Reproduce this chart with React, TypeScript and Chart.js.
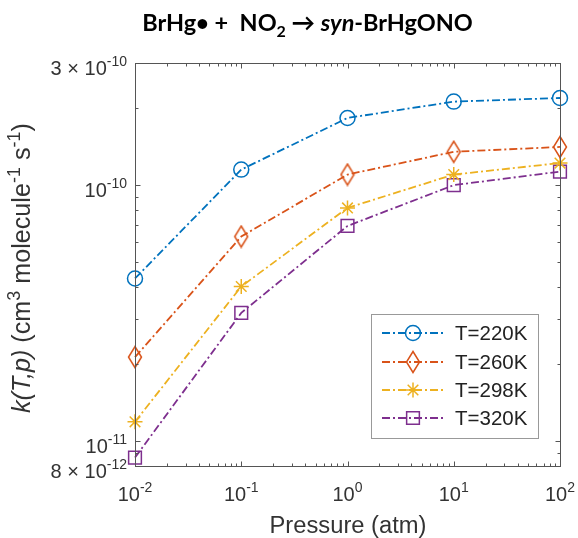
import React, { useEffect, useRef } from "react";
import { Chart, registerables } from "chart.js";
import { drawPoint } from "chart.js/helpers";

Chart.register(...registerables);

// ---- data ----
const pressures = [0.01, 0.1, 1, 10, 100];
const k220 = [4.32e-11, 1.15e-10, 1.83e-10, 2.12e-10, 2.19e-10];
const k260 = [2.13e-11, 6.3e-11, 1.1e-10, 1.35e-10, 1.41e-10];
const k298 = [1.19e-11, 4.02e-11, 8.15e-11, 1.1e-10, 1.22e-10];
const k320 = [8.63e-12, 3.17e-11, 6.93e-11, 1.0e-10, 1.13e-10];
const seriesLabels = ["T=220K", "T=260K", "T=298K", "T=320K"];
const seriesColors = ["#0072BD", "#D95319", "#EDB120", "#7E2F8E"];

const xTickValues = [1e-2, 1e-1, 1e0, 1e1, 1e2];
const xTickExponents = ["-2", "-1", "0", "1", "2"];
const yTickValues = [8e-12, 1e-11, 1e-10, 3e-10];
const yTickMantissas = ["8 × ", "", "", "3 × "];
const yTickExponents = ["-12", "-11", "-10", "-10"];

const xTitle = "Pressure (atm)";
const legendLabels = seriesLabels;

const SANS = '"Liberation Sans", Arial, sans-serif';
const TITLE_FONT = 'Lato, "Open Sans", sans-serif';

type Seg = { t: string; font: string; dy?: number };

function segsWidth(ctx: CanvasRenderingContext2D, segs: Seg[]) {
  let w = 0;
  for (const s of segs) {
    ctx.font = s.font;
    w += ctx.measureText(s.t).width;
  }
  return w;
}
function drawSegs(ctx: CanvasRenderingContext2D, segs: Seg[], x: number, y: number) {
  let cx = x;
  for (const s of segs) {
    ctx.font = s.font;
    ctx.fillText(s.t, cx, y + (s.dy || 0));
    cx += ctx.measureText(s.t).width;
  }
}

function makeDiamond(color: string) {
  const c = document.createElement("canvas");
  c.width = 16;
  c.height = 24;
  const g = c.getContext("2d")!;
  g.strokeStyle = color;
  g.lineWidth = 1.5;
  g.beginPath();
  g.moveTo(8, 1.5);
  g.lineTo(14.5, 12);
  g.lineTo(8, 22.5);
  g.lineTo(1.5, 12);
  g.closePath();
  g.stroke();
  return c;
}

function titleSegs(tb: number): Seg[] {
  return [
    { t: "BrHg", font: `bold ${tb}px ${TITLE_FONT}` },
    { t: "•", font: `bold ${Math.round(tb * 0.95)}px ${TITLE_FONT}` },
    { t: " +  NO", font: `bold ${tb}px ${TITLE_FONT}` },
    { t: "2", font: `bold ${Math.round(tb * 0.68)}px ${TITLE_FONT}`, dy: Math.round(tb * 0.25) },
    { t: " → ", font: `bold ${tb}px ${TITLE_FONT}` },
    { t: "syn", font: `italic bold ${tb}px ${TITLE_FONT}` },
    { t: "-BrHgONO", font: `bold ${tb}px ${TITLE_FONT}` },
  ];
}

function yTitleSegs(yb: number): Seg[] {
  const s = Math.round(yb * 0.7);
  const d = -Math.round(yb * 0.4);
  return [
    { t: "k(T,p)", font: `italic ${yb}px ${SANS}` },
    { t: " (cm", font: `${yb}px ${SANS}` },
    { t: "3", font: `${s}px ${SANS}`, dy: d },
    { t: " molecule", font: `${yb}px ${SANS}` },
    { t: "-1", font: `${s}px ${SANS}`, dy: d },
    { t: " s", font: `${yb}px ${SANS}` },
    { t: "-1", font: `${s}px ${SANS}`, dy: d },
    { t: ")", font: `${yb}px ${SANS}` },
  ];
}

const decorPlugin = {
  id: "decor",
  afterDraw(chart: any) {
    const ctx: CanvasRenderingContext2D = chart.ctx;
    const { left, right, top, bottom } = chart.chartArea;
    const xs = chart.scales.x;
    const ys = chart.scales.y;
    ctx.save();
    ctx.setLineDash([]);
    // box
    ctx.strokeStyle = "#555";
    ctx.lineWidth = 1;
    const L = Math.round(left) + 0.5, R = Math.round(right) + 0.5;
    const T = Math.round(top) + 0.5, B = Math.round(bottom) + 0.5;
    ctx.strokeRect(L, T, R - L, B - T);
    const seg = (x1: number, y1: number, x2: number, y2: number) => {
      ctx.beginPath();
      ctx.moveTo(x1, y1);
      ctx.lineTo(x2, y2);
      ctx.stroke();
    };
    // x ticks
    for (let e = -2; e <= 2; e++) {
      for (let m = 1; m <= 9; m++) {
        const v = m * Math.pow(10, e);
        if (v > 100.0001) continue;
        const px = Math.round(xs.getPixelForValue(v)) + 0.5;
        const len = m === 1 ? 5 : 3;
        seg(px, B, px, B - len);
        seg(px, T, px, T + len);
      }
    }
    // y ticks
    for (let e = -12; e <= -10; e++) {
      for (let m = 1; m <= 9; m++) {
        const v = m * Math.pow(10, e);
        if (v < 8e-12 * 0.999 || v > 3e-10 * 1.001) continue;
        const py = Math.round(ys.getPixelForValue(v)) + 0.5;
        const len = m === 1 ? 5 : 3;
        seg(L, py, L + len, py);
        seg(R, py, R - len, py);
      }
    }
    // tick labels
    ctx.fillStyle = "#333";
    ctx.textBaseline = "alphabetic";
    ctx.textAlign = "left";
    const base = `20px ${SANS}`;
    const sup = `14px ${SANS}`;
    yTickValues.forEach((v, i) => {
      const py = ys.getPixelForValue(v);
      const segs: Seg[] = [
        { t: yTickMantissas[i] + "10", font: base },
        { t: yTickExponents[i], font: sup, dy: -9 },
      ];
      const w = segsWidth(ctx, segs);
      drawSegs(ctx, segs, left - 8 - w, py + 12);
    });
    xTickValues.forEach((v, i) => {
      const px = xs.getPixelForValue(v);
      const segs: Seg[] = [
        { t: "10", font: base },
        { t: xTickExponents[i], font: sup, dy: -9 },
      ];
      const w = segsWidth(ctx, segs);
      drawSegs(ctx, segs, px - w / 2, 501);
    });
    // x title, fitted to ~157px wide
    ctx.font = `22px ${SANS}`;
    const xw0 = ctx.measureText(xTitle).width;
    const xb = Math.max(16, Math.min(26, (22 * 157) / xw0));
    ctx.font = `${xb}px ${SANS}`;
    ctx.textAlign = "center";
    ctx.fillText(xTitle, 348, 533);
    ctx.textAlign = "left";
    // y title (rotated), fitted to span y 125..413
    const w0 = segsWidth(ctx, yTitleSegs(22));
    const yb = Math.max(16, Math.min(26, (22 * 288) / w0));
    const ySegs = yTitleSegs(yb);
    ctx.save();
    ctx.translate(30, 413);
    ctx.rotate(-Math.PI / 2);
    drawSegs(ctx, ySegs, 0, 0);
    ctx.restore();
    // title, fitted to span x 142..473
    ctx.fillStyle = "#000";
    const t0 = segsWidth(ctx, titleSegs(22));
    const tb = Math.max(16, Math.min(28, (22 * 331) / t0));
    const tSegs = titleSegs(tb);
    const tw = segsWidth(ctx, tSegs);
    drawSegs(ctx, tSegs, 307.5 - tw / 2, 31);
    // legend
    const lx = 371, ly = 314, lw = 167, lh = 124;
    ctx.fillStyle = "#fff";
    ctx.fillRect(lx, ly, lw, lh);
    ctx.strokeStyle = "#999";
    ctx.lineWidth = 1;
    ctx.strokeRect(lx + 0.5, ly + 0.5, lw, lh);
    const rowY = [333, 362, 390, 418];
    chart.data.datasets.forEach((ds: any, i: number) => {
      const y = rowY[i];
      ctx.strokeStyle = ds.borderColor;
      ctx.lineWidth = ds.borderWidth;
      ctx.setLineDash(ds.borderDash);
      seg(382, y, 445, y);
      ctx.setLineDash([]);
      ctx.fillStyle = "rgba(0,0,0,0)";
      ctx.lineWidth = ds.pointBorderWidth;
      drawPoint(ctx, {
        pointStyle: ds.pointStyle,
        rotation: 0,
        radius: ds.pointRadius,
        borderWidth: ds.pointBorderWidth,
      } as any, 413, y);
      ctx.fillStyle = "#222";
      ctx.font = `20.5px ${SANS}`;
      ctx.textBaseline = "middle";
      ctx.fillText(legendLabels[i], 455, y + 1);
      ctx.textBaseline = "alphabetic";
    });
    ctx.restore();
  },
};

export default function App() {
  const ref = useRef<HTMLCanvasElement | null>(null);
  useEffect(() => {
    if (!ref.current) return;
    const series = [k220, k260, k298, k320];
    const styles: any[] = ["circle", makeDiamond(seriesColors[1]), "star", "rect"];
    const radii = [7.5, 8, 7.5, 9];
    const datasets = series.map((vals, i) => ({
      label: seriesLabels[i],
      data: pressures.map((p, j) => ({ x: p, y: vals[j] })),
      borderColor: seriesColors[i],
      borderWidth: 1.8,
      borderDash: [8, 3, 2, 3],
      pointStyle: styles[i],
      pointRadius: radii[i],
      pointBorderWidth: 1.5,
      pointBorderColor: seriesColors[i],
      pointBackgroundColor: "rgba(0,0,0,0)",
      fill: false,
      tension: 0,
      clip: false as any,
    }));
    const chart = new Chart(ref.current, {
      type: "line",
      data: { datasets },
      options: {
        animation: false,
        responsive: true,
        maintainAspectRatio: false,
        layout: { padding: { left: 135, top: 63, right: 18, bottom: 72 } },
        plugins: {
          legend: { display: false },
          title: { display: false },
          tooltip: { enabled: false },
        },
        scales: {
          x: { type: "logarithmic", min: 0.01, max: 100, display: false },
          y: { type: "logarithmic", min: 8e-12, max: 3e-10, display: false },
        },
      },
      plugins: [decorPlugin],
    });
    return () => chart.destroy();
  }, []);
  return (
    <div style={{ position: "fixed", left: 0, top: 0, width: 578, height: 538, background: "#fff" }}>
      <canvas ref={ref} />
    </div>
  );
}
